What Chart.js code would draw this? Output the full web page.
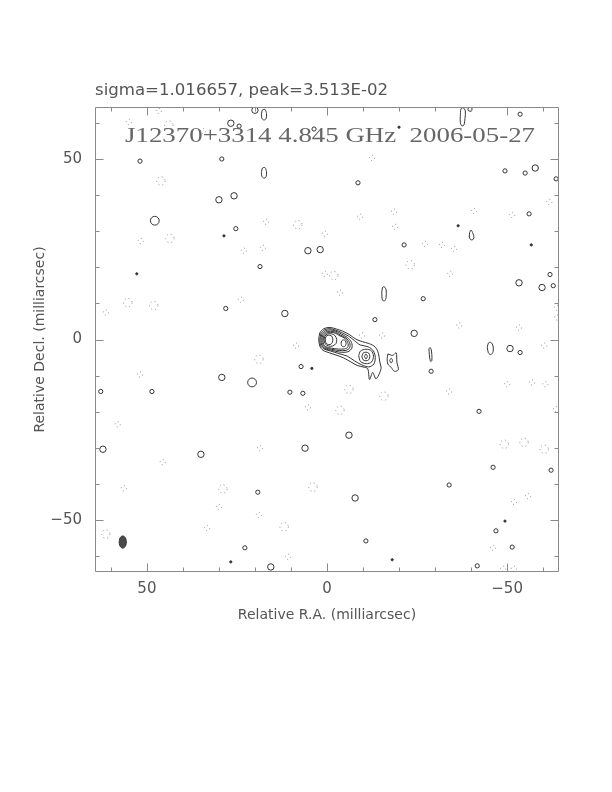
<!DOCTYPE html>
<html>
<head>
<meta charset="utf-8">
<script src="https://cdn.jsdelivr.net/npm/chart.js@4.4.1/dist/chart.umd.min.js"></script>
<style>
html,body{margin:0;padding:0;background:#fff;}
#wrap{position:relative;width:612px;height:792px;}
</style>
</head>
<body>
<div id="wrap"><canvas id="c" width="612" height="792"></canvas></div>
<script>
// ---- texts ----
const headerText = 'sigma=1.016657, peak=3.513E-02';
const mapTitle = 'J12370+3314 4.845 GHz  2006-05-27';
const xTitle = 'Relative R.A. (milliarcsec)';
const yTitle = 'Relative Decl. (milliarcsec)';

// ---- axes (milliarcsec) ----
const axisLimit = 64.4;
const majorTicks = [-50, 0, 50];
const minorTicks = [-60, -40, -30, -20, -10, 10, 20, 30, 40, 60];

// ---- main source contours (mas), outermost first ----
const jetL1 = [[2.3,-0.2],[2.0,1.8],[0.9,3.0],[-0.8,3.35],[-2.6,2.9],[-4.4,2.3],[-6.3,1.3],[-8.0,0.1],[-9.8,-0.6],[-11.6,-1.1],[-13.4,-2.1],[-14.3,-3.9],[-14.6,-6.0],[-15.0,-8.1],[-13.6,-10.9],[-12.7,-9.1],[-11.8,-11.1],[-11.3,-8.1],[-10.0,-7.6],[-8.4,-7.2],[-6.6,-6.2],[-4.6,-5.1],[-2.5,-4.3],[-0.7,-3.7],[1.1,-3.0],[2.0,-1.8],[2.3,-0.2]];
const jetL2 = [[2.0,-0.2],[1.7,1.6],[0.7,2.7],[-0.8,3.0],[-2.4,2.6],[-4.1,1.9],[-5.9,1.0],[-7.6,-0.3],[-9.2,-1.5],[-11.4,-2.0],[-12.9,-3.2],[-13.4,-5.0],[-13.0,-6.8],[-11.6,-7.6],[-9.6,-7.0],[-7.6,-5.9],[-5.6,-4.6],[-3.3,-3.9],[-1.0,-3.2],[0.9,-2.6],[1.8,-1.6],[2.0,-0.2]];
const jetL3 = [[1.7,-0.2],[1.45,1.4],[0.5,2.4],[-0.9,2.65],[-2.5,2.3],[-4.0,1.5],[-5.6,0.6],[-6.8,-0.8],[-6.9,-2.4],[-5.8,-3.4],[-3.6,-3.5],[-1.3,-3.0],[0.6,-2.5],[1.5,-1.5],[1.7,-0.2]];
const jetL4 = [[1.4,-0.2],[1.2,1.2],[0.4,2.05],[-0.9,2.3],[-2.4,2.0],[-3.8,1.2],[-5.3,0.4],[-6.3,-0.9],[-6.3,-2.3],[-5.3,-3.0],[-3.4,-3.05],[-1.2,-2.7],[0.5,-2.25],[1.25,-1.4],[1.4,-0.2]];
const jetL5 = [[1.1,-0.2],[0.9,1.0],[0.2,1.75],[-0.9,2.0],[-2.3,1.75],[-3.6,1.0],[-5.0,0.3],[-5.8,-0.9],[-5.8,-2.1],[-4.9,-2.6],[-3.2,-2.65],[-1.2,-2.4],[0.3,-2.0],[0.95,-1.3],[1.1,-0.2]];
const coreL6 = [[0.8,-0.2],[0.6,0.9],[-0.1,1.5],[-1.2,1.6],[-2.2,1.1],[-2.7,0.0],[-2.5,-1.1],[-1.6,-1.8],[-0.4,-1.8],[0.5,-1.2],[0.8,-0.2]];
const coreL7 = [[0.47,-0.1],[0.3,0.8],[-0.4,1.2],[-1.2,1.05],[-1.6,0.2],[-1.5,-0.8],[-0.9,-1.4],[-0.1,-1.3],[0.35,-0.8],[0.47,-0.1]];
const knotB = [[-3.9,-1.05],[-4.1,-0.35],[-4.6,-0.1],[-5.1,-0.35],[-5.3,-1.05],[-5.1,-1.75],[-4.6,-2.0],[-4.1,-1.75],[-3.9,-1.05]];
const knotC1 = [[-8.8,-4.5],[-9.3,-3.2],[-10.8,-2.7],[-12.3,-3.1],[-12.9,-4.6],[-12.4,-6.2],[-10.9,-6.7],[-9.3,-6.1],[-8.8,-4.5]];
const knotC2 = [[-9.7,-4.7],[-10.0,-3.8],[-10.8,-3.5],[-11.6,-3.8],[-11.9,-4.7],[-11.6,-5.6],[-10.8,-5.9],[-10.0,-5.6],[-9.7,-4.7]];
const knotC3 = [[-10.4,-4.7],[-10.8,-4.0],[-11.2,-4.7],[-10.8,-5.4],[-10.4,-4.7]];
const knotD1 = [[-16.9,-4.0],[-18.2,-4.4],[-19.2,-3.7],[-19.4,-6.3],[-19.8,-8.4],[-18.7,-8.8],[-17.8,-7.7],[-16.9,-6.8],[-16.7,-5.3],[-16.9,-4.0]];
const knotD2 = [[-17.4,-5.8],[-17.8,-5.2],[-18.2,-5.8],[-17.8,-6.5],[-17.4,-5.8]];

// ---- elongated noise contours (mas) ----
const blobE1 = [[18.2,62.4],[17.9,63.6],[17.2,63.7],[16.8,62.6],[16.9,61.2],[17.5,60.8],[18.1,61.3],[18.2,62.4]];
const blobE2 = [[18.2,46.3],[17.9,47.5],[17.2,47.6],[16.8,46.5],[16.9,45.1],[17.5,44.7],[18.1,45.2],[18.2,46.3]];
const blobE3 = [[-37.0,61.8],[-37.2,63.9],[-37.8,64.2],[-38.4,63.3],[-38.3,61.2],[-38.0,59.4],[-37.4,59.2],[-37.0,60.2],[-37.0,61.8]];
const blobE4 = [[-15.2,12.8],[-15.4,14.4],[-15.9,14.6],[-16.4,13.8],[-16.4,11.6],[-16.0,10.7],[-15.4,10.9],[-15.2,12.8]];
const blobE5 = [[-39.5,28.4],[-39.6,29.6],[-40.0,30.3],[-40.5,29.4],[-40.8,28.2],[-40.4,27.6],[-39.8,27.7],[-39.5,28.4]];
const blobE6 = [[-28.3,-2.6],[-28.6,-2.2],[-28.9,-2.7],[-29.1,-4.2],[-29.1,-5.8],[-28.8,-6.1],[-28.6,-5.6],[-28.4,-4.1],[-28.3,-2.6]];
const blobE7 = [[-44.5,-2.2],[-44.8,-1.0],[-45.5,-0.8],[-46.1,-1.8],[-46.1,-3.4],[-45.5,-4.2],[-44.8,-3.7],[-44.5,-2.2]];

// ---- restoring beam (mas) ----
const beamOutline = [[57.7,-56.1],[57.57,-55.25],[57.2,-54.63],[56.7,-54.4],[56.2,-54.63],[55.83,-55.25],[55.7,-56.1],[55.83,-56.95],[56.2,-57.57],[56.7,-57.8],[57.2,-57.57],[57.57,-56.95],[57.7,-56.1]];

// ---- small positive contours (centres, mas) ----
const posLarge = [[47.8,32.9],[20.8,-11.9]];
const posMedium = [[20.0,63.5],[26.7,59.9],[30.0,38.7],[25.8,39.8],[5.3,24.6],[1.9,24.9],[11.7,7.2],[-57.8,47.5],[-53.3,15.7],[-59.7,14.4],[-24.2,1.7],[29.2,-10.5],[62.2,-30.4],[35.0,-31.8],[6.1,-30.1],[15.6,-63.0],[-50.8,-2.5],[-6.1,-26.5],[-7.8,-43.9]];
const posSmall = [[24.4,59.1],[3.6,58.3],[51.9,49.4],[29.2,50.0],[25.3,30.7],[18.6,20.2],[28.1,8.6],[-39.7,63.8],[-53.6,62.4],[-8.6,43.4],[-49.4,46.7],[-55.0,46.1],[-63.6,44.5],[-56.1,34.8],[-21.4,26.2],[-62.8,14.9],[-61.9,18.0],[-26.7,11.3],[-13.3,5.5],[7.2,-7.5],[62.8,-14.4],[48.6,-14.4],[10.3,-14.6],[6.7,-14.9],[19.2,-42.3],[22.8,-57.7],[-53.6,-3.6],[-28.9,-8.8],[-42.2,-19.9],[-46.1,-35.4],[-62.2,-36.2],[-33.9,-40.3],[-46.9,-53.0],[-51.4,-57.5],[-10.8,-55.8],[-41.7,-62.7]];
const posDots = [[28.6,28.7],[52.8,18.2],[-20.0,58.8],[-36.4,31.5],[-56.7,26.2],[4.2,-8.0],[26.7,-61.6],[-49.4,-50.3],[-18.1,-61.0]];

// ---- small negative contours (centres, mas) ----
const negMedium = [[43.9,59.4],[46.1,43.9],[43.6,28.0],[8.1,31.8],[55.3,10.2],[48.1,9.4],[-23.1,20.7],[-1.9,17.7],[18.9,-5.5],[28.9,-41.4],[3.9,-40.9],[11.9,-51.9],[61.4,-53.9],[-6.1,-13.8],[-15.8,-15.7],[-3.6,-19.6],[-49.2,-29.0],[-54.7,-28.5],[-60.3,-30.4]];
const negSmall = [[55.0,60.2],[34.4,57.7],[51.7,27.3],[16.9,32.6],[23.1,24.6],[17.8,25.4],[0.6,29.3],[0.6,18.2],[61.4,7.5],[23.9,11.0],[46.7,63.3],[-12.5,50.3],[-9.2,34.0],[-18.6,35.4],[-18.9,31.2],[-27.2,26.5],[-31.9,26.2],[-35.3,25.1],[-40.8,35.6],[-51.4,34.5],[-34.2,18.2],[-3.6,13.0],[-61.7,38.1],[-63.9,8.8],[-63.9,6.1],[-53.3,3.3],[-36.7,3.9],[-9.7,1.1],[-15.3,1.1],[8.6,-1.7],[51.9,-9.7],[58.1,-23.5],[45.6,-34.0],[56.4,-41.2],[30.0,-46.4],[18.6,-30.1],[18.9,-48.6],[33.3,-52.2],[5.3,-18.8],[10.8,-60.2],[-33.9,-14.4],[-50.0,-12.4],[-56.9,-11.9],[-60.6,-12.4],[-60.3,-1.7],[-63.6,-19.3],[-55.8,-43.4],[-51.9,-45.0],[-46.1,-57.7],[-48.9,-63.5],[-51.9,-63.5]];

// ---- build datasets ----
const INK = '#333';
const toXY = arr => arr.map(([x, y]) => ({x, y}));
function contourSet(arr) {
  return {type:'scatter', data: toXY(arr), showLine: true, pointRadius: 0, borderColor: INK,
          borderWidth: 1, tension: 0.3, fill: false};
}
function blobSet(arr, r, dashed, filled) {
  return {type:'scatter', data: toXY(arr), showLine: false, pointStyle: 'circle', pointRadius: r,
          pointBorderWidth: 1, pointBorderColor: dashed ? '#8c8c8c' : INK,
          pointBackgroundColor: filled ? INK : 'rgba(0,0,0,0)', dashed: !!dashed};
}
const datasets = [
  ...[jetL1, jetL2, jetL3, jetL4, jetL5, coreL6, coreL7, knotB, knotC1, knotC2, knotC3, knotD1, knotD2].map(contourSet),
  ...[blobE1, blobE2, blobE3, blobE4, blobE5, blobE6, blobE7].map(contourSet),
  Object.assign(contourSet(beamOutline), {fill: 'shape', backgroundColor: '#4a4a4a', borderColor: '#333', tension: 0.2}),
  blobSet(posLarge, 4.4, false, false),
  blobSet(posMedium, 3.2, false, false),
  blobSet(posSmall, 2.1, false, false),
  blobSet(posDots, 1.1, false, true),
  blobSet(negMedium, 4.2, true, false),
  blobSet(negSmall, 2.6, true, false),
];

function fmt(v) { return v < 0 ? '\u2212' + Math.abs(v) : String(v); }

function drawFitted(ctx, text, x, y, width, font, color) {
  ctx.save();
  ctx.font = font;
  ctx.fillStyle = color;
  ctx.textBaseline = 'alphabetic';
  ctx.textAlign = 'left';
  const w = ctx.measureText(text).width;
  ctx.translate(x, y);
  ctx.scale(width / w, 1);
  ctx.fillText(text, 0, 0);
  ctx.restore();
}

const dashPlugin = {
  id: 'dashPoints',
  beforeDatasetDraw(chart, args) {
    if (chart.data.datasets[args.index].dashed) chart.ctx.setLineDash([1, 3]);
  },
  afterDatasetDraw(chart) { chart.ctx.setLineDash([]); }
};

const framePlugin = {
  id: 'frame',
  afterDraw(chart) {
    const {ctx, chartArea: a, scales: {x, y}} = chart;
    const L = Math.round(a.left) + 0.5, R = Math.round(a.right) - 0.5;
    const T = Math.round(a.top) + 0.5, B = Math.round(a.bottom) - 0.5;
    ctx.save();
    ctx.strokeStyle = '#8a8a8a';
    ctx.lineWidth = 1;
    ctx.beginPath();
    ctx.rect(L, T, R - L, B - T);
    const tick = (v, len) => {
      const px = Math.round(x.getPixelForValue(v)) + 0.5;
      ctx.moveTo(px, B); ctx.lineTo(px, B - len);
      ctx.moveTo(px, T); ctx.lineTo(px, T + len);
      const py = Math.round(y.getPixelForValue(v)) + 0.5;
      ctx.moveTo(L, py); ctx.lineTo(L + len, py);
      ctx.moveTo(R, py); ctx.lineTo(R - len, py);
    };
    majorTicks.forEach(v => tick(v, 8));
    minorTicks.forEach(v => tick(v, 4));
    ctx.stroke();
    ctx.restore();
    drawFitted(ctx, headerText, 95, 95, 293, '15px "DejaVu Sans"', '#555');
    drawFitted(ctx, mapTitle, 125, 142, 410, '21px "Liberation Serif"', '#666');
  }
};

new Chart(document.getElementById('c'), {
  type: 'scatter',
  data: {datasets},
  options: {
    responsive: false,
    animation: false,
    events: [],
    layout: {padding: {left: 0, right: 53, top: 107, bottom: 140}},
    plugins: {legend: {display: false}, tooltip: {enabled: false}},
    scales: {
      x: {
        type: 'linear', min: -axisLimit, max: axisLimit, reverse: true,
        grid: {display: false, drawTicks: false}, border: {display: false},
        ticks: {stepSize: 10, autoSkip: false, maxRotation: 0, padding: 8, color: '#555',
                font: {family: 'DejaVu Sans', size: 15},
                callback: v => majorTicks.includes(v) ? fmt(v) : ''},
        title: {display: true, text: xTitle, color: '#555', font: {family: 'DejaVu Sans', size: 14},
                padding: {top: 0, bottom: 28}},
        afterFit: s => { s.height = 80; }
      },
      y: {
        type: 'linear', min: -axisLimit, max: axisLimit,
        grid: {display: false, drawTicks: false}, border: {display: false},
        ticks: {stepSize: 10, autoSkip: false, padding: 13, color: '#555',
                font: {family: 'DejaVu Sans', size: 15},
                callback: v => majorTicks.includes(v) ? fmt(v) : ''},
        title: {display: true, text: yTitle, color: '#555', font: {family: 'DejaVu Sans', size: 14},
                padding: {top: 32, bottom: 0}},
        afterFit: s => { s.width = 95; }
      }
    }
  },
  plugins: [dashPlugin, framePlugin]
});
</script>
</body>
</html>
